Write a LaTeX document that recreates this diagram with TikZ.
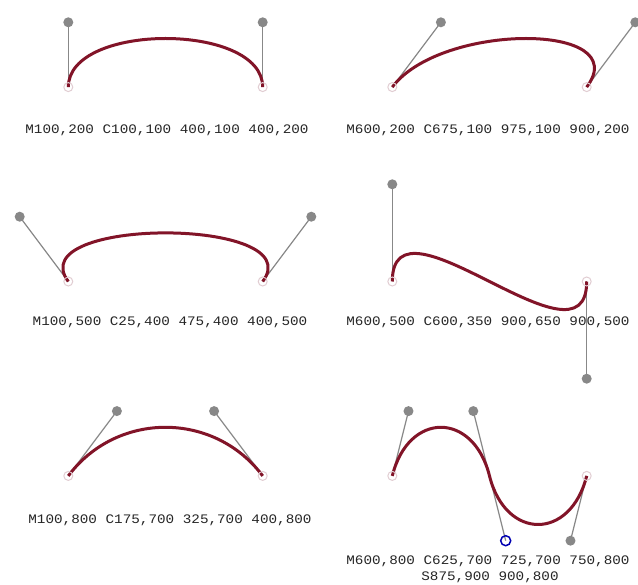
\documentclass[tikz,border=0pt]{standalone}
\usepackage{fontspec}
\newfontfamily\lblfont[FakeStretch=1.1]{Liberation Mono}
\definecolor{curvecol}{RGB}{130,20,40}
\definecolor{ctlgray}{RGB}{136,136,136}
\definecolor{endcol}{RGB}{225,205,210}
\tikzset{
  conn/.style={draw=ctlgray, line width=1.2pt},
  curve/.style={draw=curvecol, line width=3pt},
  endpt/.style={circle, draw=endcol, line width=1pt, inner sep=0pt, minimum size=9pt},
  ctlpt/.style={circle, fill=ctlgray, inner sep=0pt, minimum size=10pt},
  autopt/.style={circle, draw=blue!70!black, line width=1.5pt, inner sep=0pt, minimum size=10pt},
  lbl/.style={font=\lblfont\fontsize{13}{14}\selectfont, text=black!85, inner sep=0pt}
}
\begin{document}
\begin{tikzpicture}
\useasboundingbox (0,0) rectangle (638pt,-585pt);
\fill[white] (0,0) rectangle (638pt,-585pt);
\begin{scope}[x=0.648pt,y=-0.648pt,shift={(3.5pt,42.5pt)}]
% panel 1
\coordinate (a1) at (100,200); \coordinate (b1) at (100,100);
\coordinate (c1) at (400,100); \coordinate (d1) at (400,200);
% panel 2
\coordinate (a2) at (600,200); \coordinate (b2) at (675,100);
\coordinate (c2) at (975,100); \coordinate (d2) at (900,200);
% panel 3
\coordinate (a3) at (100,500); \coordinate (b3) at (25,400);
\coordinate (c3) at (475,400); \coordinate (d3) at (400,500);
% panel 4
\coordinate (a4) at (600,500); \coordinate (b4) at (600,350);
\coordinate (c4) at (900,650); \coordinate (d4) at (900,500);
% panel 5
\coordinate (a5) at (100,800); \coordinate (b5) at (175,700);
\coordinate (c5) at (325,700); \coordinate (d5) at (400,800);
% panel 6
\coordinate (a6) at (600,800); \coordinate (b6) at (625,700);
\coordinate (c6) at (725,700); \coordinate (d6) at (750,800);
\coordinate (r6) at (775,900); \coordinate (e6) at (875,900);
\coordinate (f6) at (900,800);

% control lines
\draw[conn] (a1) -- (b1); \draw[conn] (c1) -- (d1);
\draw[conn] (a2) -- (b2); \draw[conn] (c2) -- (d2);
\draw[conn] (a3) -- (b3); \draw[conn] (c3) -- (d3);
\draw[conn] (a4) -- (b4); \draw[conn] (c4) -- (d4);
\draw[conn] (a5) -- (b5); \draw[conn] (c5) -- (d5);
\draw[conn] (a6) -- (b6); \draw[conn] (c6) -- (d6) -- (r6); \draw[conn] (e6) -- (f6);

% curves
\draw[curve] (a1) .. controls (b1) and (c1) .. (d1);
\draw[curve] (a2) .. controls (b2) and (c2) .. (d2);
\draw[curve] (a3) .. controls (b3) and (c3) .. (d3);
\draw[curve] (a4) .. controls (b4) and (c4) .. (d4);
\draw[curve] (a5) .. controls (b5) and (c5) .. (d5);
\draw[curve] (a6) .. controls (b6) and (c6) .. (d6) .. controls (r6) and (e6) .. (f6);

% end points
\foreach \p in {a1,d1,a2,d2,a3,d3,a4,d4,a5,d5,a6,f6}
  \node[endpt] (E\p) at (\p) {};
% control points
\foreach \p in {b1,c1,b2,c2,b3,c3,b4,c4,b5,c5,b6,c6,e6}
  \node[ctlpt] (C\p) at (\p) {};
\node[autopt] (Ar6) at (r6) {};
\end{scope}

% labels
\node[lbl] (l1) at (167pt,-130pt) {M100,200 C100,100 400,100 400,200};
\node[lbl] (l2) at (488pt,-130pt) {M600,200 C675,100 975,100 900,200};
\node[lbl] (l3) at (170pt,-322pt) {M100,500 C25,400 475,400 400,500};
\node[lbl] (l4) at (488pt,-322pt) {M600,500 C600,350 900,650 900,500};
\node[lbl] (l5) at (170pt,-520pt) {M100,800 C175,700 325,700 400,800};
\node[lbl] (l6) at (488pt,-561pt) {M600,800 C625,700 725,700 750,800};
\node[lbl] (l7) at (490pt,-577pt) {S875,900 900,800};
\end{tikzpicture}
\end{document}
